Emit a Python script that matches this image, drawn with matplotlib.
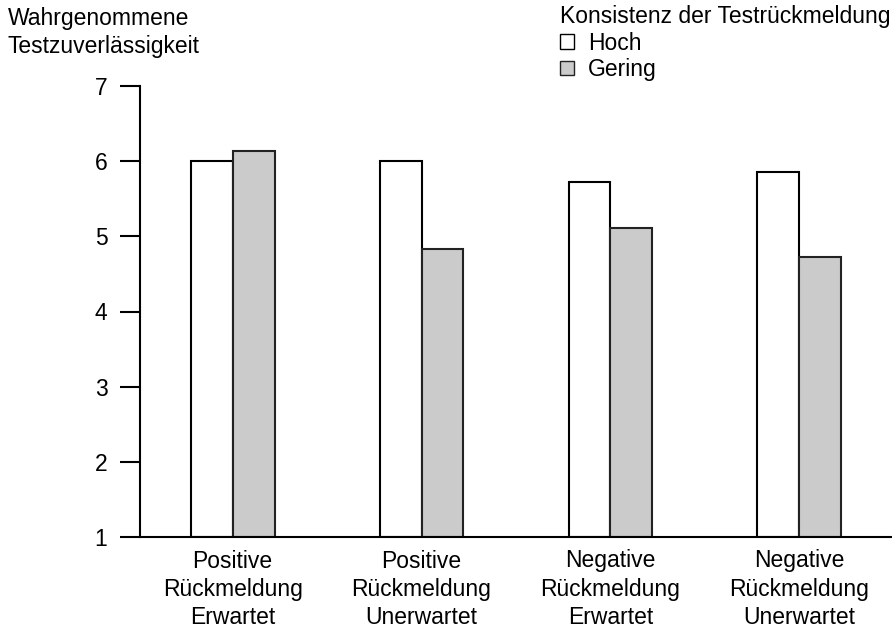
import matplotlib
matplotlib.use('Agg')
import matplotlib.pyplot as plt
from matplotlib.patches import Patch
import numpy as np

plt.rcParams['font.family'] = ['Liberation Sans', 'DejaVu Sans']

categories = ['Positive\nRückmeldung\nErwartet', 'Positive\nRückmeldung\nUnerwartet',
              'Negative\nRückmeldung\nErwartet', 'Negative\nRückmeldung\nUnerwartet']
hoch = [6.0, 6.0, 5.72, 5.85]
gering = [6.13, 4.83, 5.11, 4.72]
yticks = [1, 2, 3, 4, 5, 6, 7]

fig = plt.figure(figsize=(8.92, 6.28), dpi=100)
ax = fig.add_axes([140 / 892, 1 - 537 / 628, 1 - 140 / 892, (537 - 86) / 628])

x = np.arange(len(categories))
w = 0.222
ax.bar(x - w / 2, np.array(hoch) - 1, w, bottom=1, color='white', edgecolor='black', linewidth=1.5)
ax.bar(x + w / 2, np.array(gering) - 1, w, bottom=1, color='#cbcbcb', edgecolor='#222222', linewidth=1.5)

ax.set_xlim(-0.49, 3.49)
ax.set_ylim(1, 7)
ax.set_yticks(yticks)
ax.set_xticks(x)
ax.set_xticklabels(categories, fontsize=16.5, linespacing=1.3)
ax.tick_params(axis='x', length=0, pad=9)
ax.tick_params(axis='y', length=14.4, width=1.5, labelsize=16.5, pad=9)
for s in ['top', 'right']:
    ax.spines[s].set_visible(False)
ax.spines['left'].set_linewidth(1.5)
ax.spines['bottom'].set_linewidth(1.5)

fig.text(8 / 892, 1 - 7 / 628, 'Wahrgenommene\nTestzuverlässigkeit', fontsize=16.5,
         va='top', ha='left', linespacing=1.3)

handles = [Patch(facecolor='white', edgecolor='black', label='Hoch'),
           Patch(facecolor='#cbcbcb', edgecolor='#222222', label='Gering')]
leg = fig.legend(handles=handles, title='Konsistenz der Testrückmeldung', loc='upper left',
                 bbox_to_anchor=(558 / 892, 1 - 3 / 628), frameon=False, fontsize=16.5,
                 title_fontsize=16.5, alignment='left', handlelength=0.6, handleheight=0.6,
                 handletextpad=0.6, labelspacing=0.15, borderpad=0.1, borderaxespad=0)

fig.savefig('out.png', dpi=100)
